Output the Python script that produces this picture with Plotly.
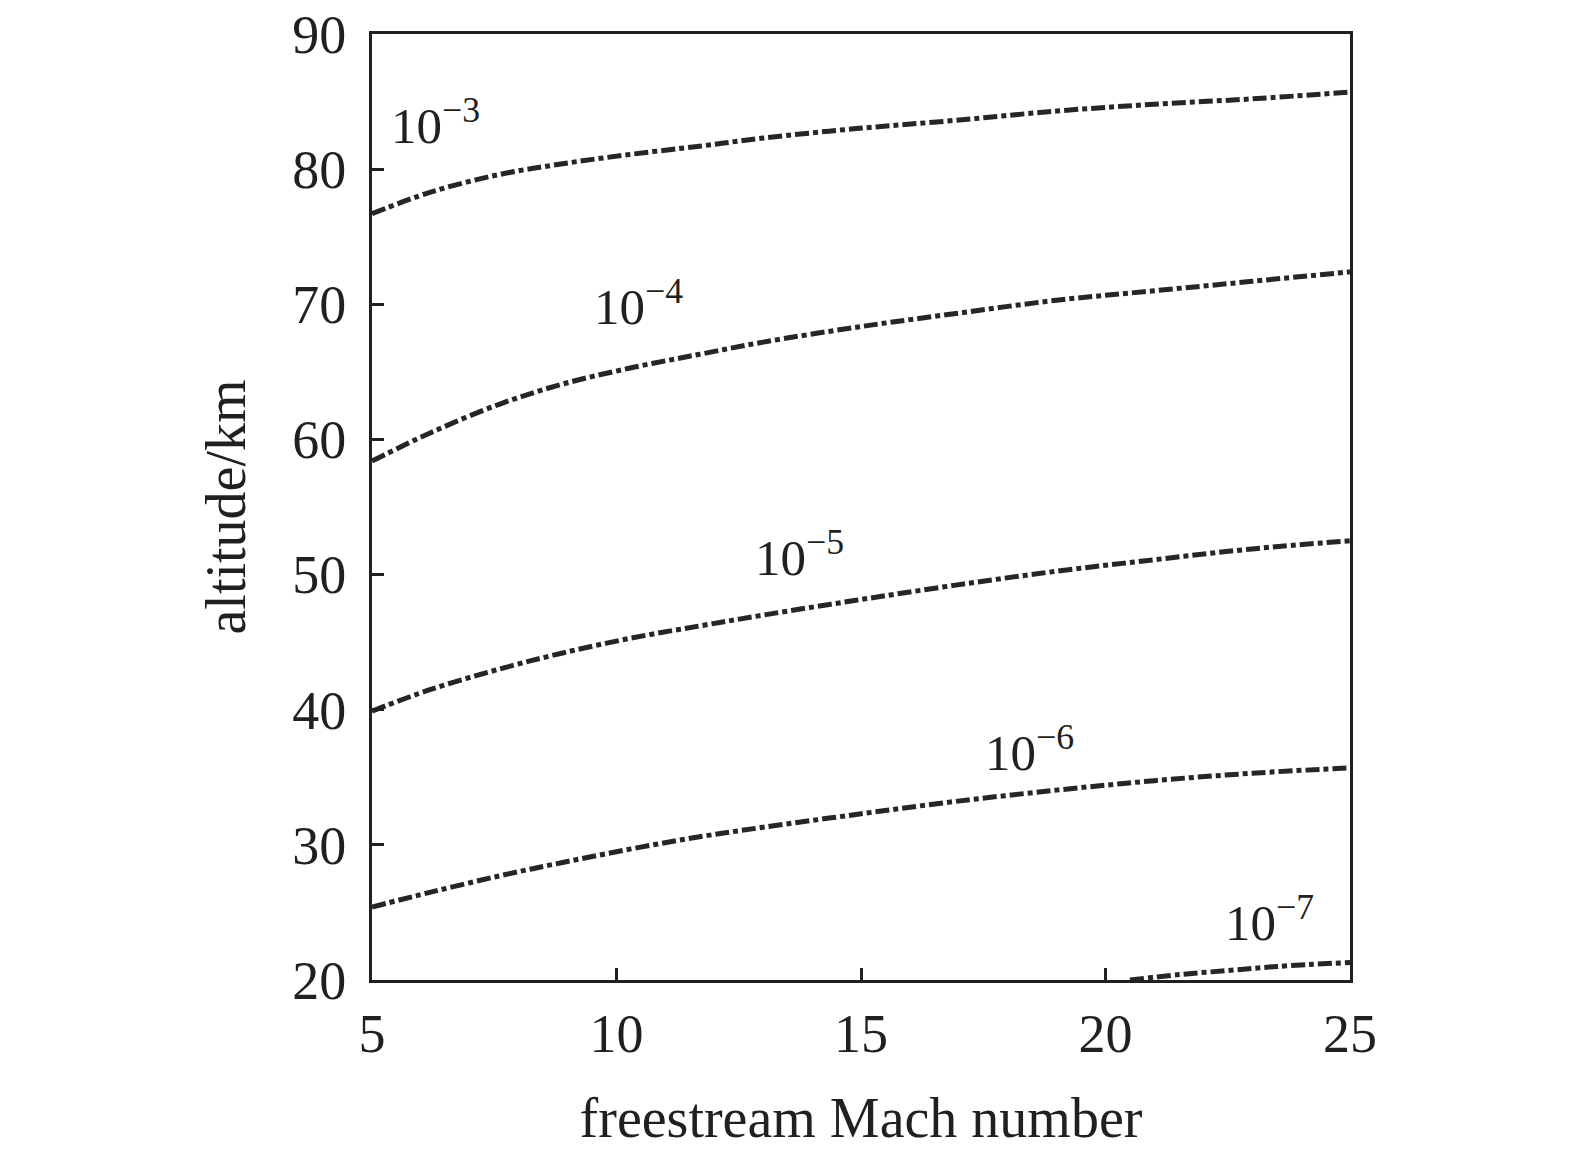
import plotly.graph_objects as go

# 来流马赫数 - 高度 等值线
mach = [5, 6.2, 7.6, 8.9, 10.3, 11.7, 13, 14.9, 16.9, 19, 21, 23, 25]

alt_1e3 = [76.7, 78.3, 79.6, 80.4, 81.1, 81.7, 82.3, 83.0, 83.6, 84.3, 84.8, 85.2, 85.7]
alt_1e4 = [58.4, 60.5, 62.6, 64.1, 65.3, 66.3, 67.2, 68.3, 69.3, 70.3, 71.0, 71.7, 72.4]
alt_1e5 = [39.9, 41.5, 43.0, 44.2, 45.3, 46.2, 47.0, 48.1, 49.2, 50.25, 51.1, 51.9, 52.5]
alt_1e6 = [25.4, 26.5, 27.7, 28.7, 29.7, 30.6, 31.3, 32.25, 33.2, 34.05, 34.75, 35.3, 35.7]

mach_1e7 = [20.5, 21.5, 22.5, 23.5, 25]
alt_1e7 = [20.0, 20.4, 20.7, 21.0, 21.3]

curve_labels = ["10<sup>−3</sup>", "10<sup>−4</sup>", "10<sup>−5</sup>",
                "10<sup>−6</sup>", "10<sup>−7</sup>"]
label_x = [6.3, 10.45, 13.75, 18.45, 23.35]
label_y = [83.5, 70.1, 51.5, 37.1, 24.5]

x_ticks = [5, 10, 15, 20, 25]
y_ticks = [20, 30, 40, 50, 60, 70, 80, 90]

FONT = "Liberation Serif, Times New Roman, serif"
INK = "#231f20"

fig = go.Figure()

line_style = dict(color="#262626", width=5, dash="14px,4px,5px,4px", shape="spline")
for xs, ys in [(mach, alt_1e3), (mach, alt_1e4), (mach, alt_1e5),
               (mach, alt_1e6), (mach_1e7, alt_1e7)]:
    fig.add_trace(go.Scatter(x=xs, y=ys, mode="lines", line=line_style,
                             showlegend=False, hoverinfo="skip"))

for txt, lx, ly in zip(curve_labels, label_x, label_y):
    fig.add_annotation(x=lx, y=ly, text=txt, showarrow=False,
                       font=dict(family=FONT, size=51, color=INK))

axis_common = dict(
    showline=True, linecolor=INK, linewidth=3, mirror=True,
    ticks="inside", ticklen=12, tickwidth=3, tickcolor=INK,
    showgrid=False, zeroline=False, automargin=False,
    ticklabeloverflow="allow",
    tickfont=dict(family=FONT, size=54, color=INK),
)

fig.update_xaxes(range=[5, 25], tickvals=x_ticks, ticklabelstandoff=4,
                 title=dict(text="freestream Mach number", standoff=36,
                            font=dict(family=FONT, size=56, color=INK)),
                 **axis_common)
fig.update_yaxes(range=[20, 90], tickvals=y_ticks, ticklabelstandoff=12,
                 title=dict(text="altitude/km", standoff=29,
                            font=dict(family=FONT, size=56, color=INK)),
                 **axis_common)

fig.update_layout(
    width=1575, height=1153,
    margin=dict(l=364, r=233, t=26, b=181),
    plot_bgcolor="white", paper_bgcolor="white",
)

fig.write_html("out.html")
